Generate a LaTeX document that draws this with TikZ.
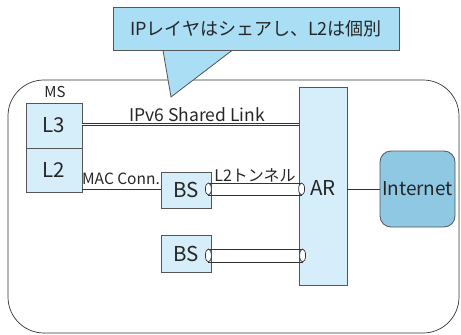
\documentclass[tikz,border=0pt]{standalone}
\usepackage{fontspec}
\setmainfont{Noto Sans CJK JP}
\definecolor{lightfill}{RGB}{214,238,250}
\definecolor{callfill}{RGB}{170,222,245}
\definecolor{netfill}{RGB}{143,200,226}
\definecolor{edge}{RGB}{85,85,85}
\tikzset{
  box/.style={draw=edge, line width=0.8pt, fill=lightfill, inner sep=0pt, text=black!85, font=\fontsize{20.5}{20.5}\selectfont},
  lbl/.style={inner sep=0pt, font=\fontsize{14}{14}\selectfont, text=black!85},
  wire/.style={draw=black!80, line width=0.7pt},
  pipeend/.style={draw=black!80, line width=0.7pt, fill=white},
}
\begin{document}
\begin{tikzpicture}[x=1pt,y=-1pt]
\useasboundingbox (0,0) rectangle (461,335);
% outer area
\draw[black!80, line width=0.7pt, rounded corners=36pt] (8,80) rectangle (459,333);
% MS stack
\node[lbl, font=\fontsize{15}{15}\selectfont] (ms) at (55,92) {MS};
\node[box, minimum width=56pt, minimum height=45pt] (l3) at (54,125.5) {L3};
\node[box, minimum width=56pt, minimum height=44pt] (l2) at (54,170) {L2};
% AR
\node[box, minimum width=48pt, minimum height=198pt] (ar) at (323,186) {};
\node[inner sep=0pt, font=\fontsize{20.5}{20.5}\selectfont, text=black!85] (arl) at (323,188) {AR};
% Internet
\node[draw=edge, line width=0.8pt, fill=netfill, rounded corners=11pt, minimum width=75pt, minimum height=76pt, inner sep=0pt, font=\fontsize{19}{19}\selectfont, text=black!85] (inet) at (417.5,189) {Internet};
% BS
\node[box, minimum width=50pt, minimum height=36pt] (bs1) at (186,190) {BS};
\node[box, minimum width=50pt, minimum height=37pt] (bs2) at (186,253.5) {BS};
% IPv6 shared link
\draw[black!80, line width=0.6pt, double=white, double distance=1.6pt] (l3.east |- 0,124.5) -- (ar.west |- 0,124.5);
\node[lbl, font=\fontsize{17.5}{17.5}\selectfont] (ipv6) at (197,115) {IPv6 Shared Link};
% MAC conn
\draw[wire] (l2.east |- bs1.west) ++(0,-1) coordinate (macs) -- (bs1.west |- macs);
\node[lbl, font=\fontsize{15.5}{15.5}\selectfont] (mac) at (121,179) {MAC Conn.};
% AR - Internet
\draw[wire] (ar.east |- inet.west) -- (inet.west);
% tunnels
\coordinate (t1a) at ([xshift=-3pt,yshift=1pt]bs1.east);
\coordinate (t1b) at (t1a -| ar.west);
\draw[wire] ([yshift=-6pt]t1a) -- ([xshift=3pt,yshift=-6pt]t1b);
\draw[wire] ([yshift=6pt]t1a) -- ([xshift=3pt,yshift=6pt]t1b);
\draw[pipeend] ([xshift=3pt]t1b) ellipse [x radius=3pt, y radius=6pt];
\draw[pipeend] (t1a) ellipse [x radius=3pt, y radius=6pt];
\coordinate (t2a) at ([xshift=-3pt,yshift=-2pt]bs2.east);
\coordinate (t2b) at (t2a -| ar.west);
\draw[wire] ([yshift=-6.5pt]t2a) -- ([xshift=4pt,yshift=-6.5pt]t2b);
\draw[wire] ([yshift=6.5pt]t2a) -- ([xshift=4pt,yshift=6.5pt]t2b);
\draw[pipeend] ([xshift=4pt]t2b) ellipse [x radius=3pt, y radius=6.5pt];
\draw[pipeend] (t2a) ellipse [x radius=3pt, y radius=6.5pt];
\node[lbl, font=\fontsize{16}{16}\selectfont] (tun) at (255,175) {L2トンネル};
% callout
\node[draw=edge, line width=0.8pt, fill=callfill, minimum width=286pt, minimum height=43pt, inner sep=0pt, font=\fontsize{18}{18}\selectfont, text=black!85] (co) at (256,28.5) {IPレイヤはシェアし、L2は個別};
\fill[callfill] ([xshift=-93pt,yshift=-0.6pt]co.south) -- (171,97) -- ([xshift=-24pt,yshift=-0.6pt]co.south) -- cycle;
\draw[edge, line width=0.8pt, line join=miter] ([xshift=-93pt]co.south) -- (171,97) -- ([xshift=-24pt]co.south);
\end{tikzpicture}
\end{document}
